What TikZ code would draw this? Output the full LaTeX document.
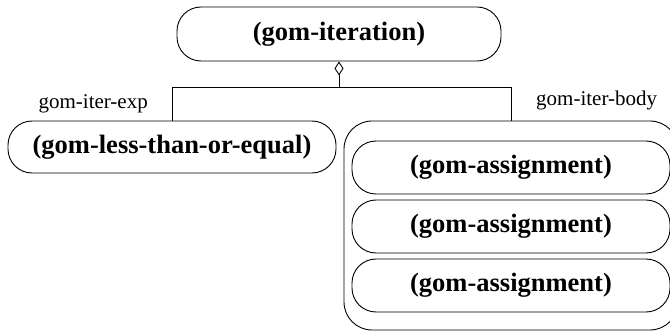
\documentclass[tikz,border=0pt]{standalone}
\usepackage{fontspec}
\setmainfont{Liberation Serif}
\usetikzlibrary{arrows.meta}
\begin{document}
\begin{tikzpicture}[x=1pt,y=-1pt,
  obj/.style={draw,line width=0.9pt,rounded corners=24pt,inner sep=0pt,
    font=\fontsize{26.5}{30}\selectfont\bfseries},
  role/.style={inner sep=0pt,font=\fontsize{21}{24}\selectfont},
  conn/.style={line width=0.9pt}]
\useasboundingbox (0,0) rectangle (670,331);
\clip (0,0) rectangle (670,331);
\node[obj,minimum width=324pt,minimum height=54pt] (top) at (339,34) {(gom-iteration)};
\node[obj,minimum width=328pt,minimum height=52pt] (lte) at (172,147) {(gom-less-than-or-equal)};
\node[obj,rounded corners=28pt,minimum width=334pt,minimum height=209pt] (body) at (511,225.5) {};
\node[obj,minimum width=318pt,minimum height=53pt] (a1) at (511,167.5) {(gom-assignment)};
\node[obj,minimum width=318pt,minimum height=53pt] (a2) at (511,226.5) {(gom-assignment)};
\node[obj,minimum width=318pt,minimum height=53pt] (a3) at (511,285.5) {(gom-assignment)};
\coordinate (j) at (339,87);
\coordinate (jl) at (172,87);
\coordinate (jr) at (511,87);
\draw[conn,{Diamond[open,length=14pt,width=9pt,line width=0.9pt]}-] (top.south) -- (j);
\draw[conn] (jl) -- (jr);
\draw[conn] (jl) -- (lte.north);
\draw[conn] (jr) -- (body.north);
\node[role,anchor=base east] (lexp) at (148,109) {gom-iter-exp};
\node[role,anchor=base west] (lbody) at (536,106) {gom-iter-body};
\end{tikzpicture}
\end{document}
